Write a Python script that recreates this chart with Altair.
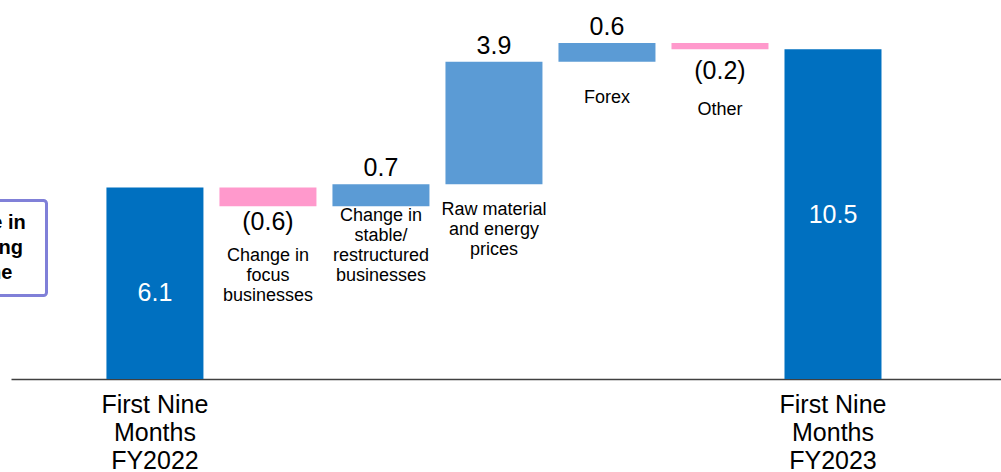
import altair as alt
import pandas as pd

# ---- data ----
categories = [
    "First Nine\nMonths\nFY2022",
    "Change in\nfocus\nbusinesses",
    "Change in\nstable/\nrestructured\nbusinesses",
    "Raw material\nand energy\nprices",
    "Forex",
    "Other",
    "First Nine\nMonths\nFY2023",
]
values = [6.1, -0.6, 0.7, 3.9, 0.6, -0.2, 10.5]
kinds = ["total", "down", "up", "up", "up", "down", "total"]
value_labels = ["6.1", "(0.6)", "0.7", "3.9", "0.6", "(0.2)", "10.5"]
box_text = "Change in\noperating\nincome"

# ---- build waterfall table ----
rows = []
running = 0.0
for i, (c, v, k, lab) in enumerate(zip(categories, values, kinds, value_labels)):
    if k == "total":
        start, end = 0.0, v
        running = v
    else:
        start, end = running, running + v
        running = end
    rows.append(dict(idx=i, cat=c, start=start, end=end, kind=k, label=lab,
                     low=min(start, end), high=max(start, end),
                     mid=(start + end) / 2))
df = pd.DataFrame(rows)

FONT = "Liberation Sans"
x_scale = alt.Scale(paddingInner=0.1416, paddingOuter=0.951, align=0.444)
x_enc = alt.X("cat:N", sort=None, scale=x_scale,
              axis=alt.Axis(title=None, labelAngle=0, ticks=False, tickSize=0,
                            domainColor="#404040", domainWidth=1.5,
                            labelFont=FONT, labelFontSize=25, labelColor="#000000",
                            labelLineHeight=28, labelPadding=13, labelBaseline="top",
                            labelOverlap=False, labelBound=False, grid=False,
                            labelExpr="indexof(datum.label, 'FY') >= 0 ? split(datum.label, '\\n') : ''"))
y_scale = alt.Scale(domain=[0, 12.07], nice=False, zero=True)


def xs():
    return alt.X("cat:N", sort=None, scale=x_scale)


def ys(field):
    return alt.Y(field, scale=y_scale, axis=None)


base = alt.Chart(df)

bars = base.mark_bar(size=97).encode(
    x=x_enc,
    y=ys("start:Q"),
    y2="end:Q",
    color=alt.Color("kind:N",
                    scale=alt.Scale(domain=["total", "up", "down"],
                                    range=["#0070C0", "#5B9BD5", "#FF99CC"]),
                    legend=None),
)

layers = [bars]

# labels above increasing bars
layers.append(base.transform_filter("datum.kind == 'up'").mark_text(
    font=FONT, fontSize=25, color="#000000", baseline="alphabetic", dy=-8
).encode(x=xs(), y=ys("high:Q"), text="label:N"))

# labels below decreasing bars
for idx, dy in [(1, 4), (5, 10)]:
    layers.append(base.transform_filter(f"datum.idx == {idx}").mark_text(
        font=FONT, fontSize=25, color="#000000", baseline="top", dy=dy
    ).encode(x=xs(), y=ys("low:Q"), text="label:N"))

# white labels inside total bars
for idx, dy in [(0, 10), (6, 1)]:
    layers.append(base.transform_filter(f"datum.idx == {idx}").mark_text(
        font=FONT, fontSize=25, color="#FFFFFF", baseline="middle", dy=dy
    ).encode(x=xs(), y=ys("mid:Q"), text="label:N"))

# category labels under the change bars
for idx, dy in [(1, 41), (2, 1), (3, 17), (4, 27), (5, 52)]:
    layers.append(base.transform_filter(f"datum.idx == {idx}").mark_text(
        font=FONT, fontSize=18, color="#000000", baseline="top", lineBreak="\n",
        lineHeight=20, dy=dy
    ).encode(x=xs(), y=ys("low:Q"), text="cat:N"))

# partially visible annotation box on the left edge
box_df = pd.DataFrame({"t": [box_text]})
layers.append(alt.Chart(box_df).mark_rect(
    fill="#FFFFFF", stroke="#8080D8", strokeWidth=3, cornerRadius=3
).encode(x=alt.value(-102), x2=alt.value(35.5), y=alt.value(200.5), y2=alt.value(295.5)))
layers.append(alt.Chart(box_df).mark_text(
    font=FONT, fontSize=20, fontWeight="bold", color="#000000", align="center",
    baseline="middle", lineBreak="\n", lineHeight=25
).encode(x=alt.value(-33.6), y=alt.value(223), text="t:N"))

chart = alt.layer(*layers).properties(
    width=990, height=379,
    background="#FFFFFF",
    autosize=alt.AutoSizeParams(type="none"),
    padding={"left": 11, "top": 0, "right": 0, "bottom": 93},
).configure_view(strokeWidth=0, stroke="transparent").configure_axisY(
    grid=False, domain=False, ticks=False, labels=False
)

chart.save("out.html", embed_options={"renderer": "svg", "actions": False})
